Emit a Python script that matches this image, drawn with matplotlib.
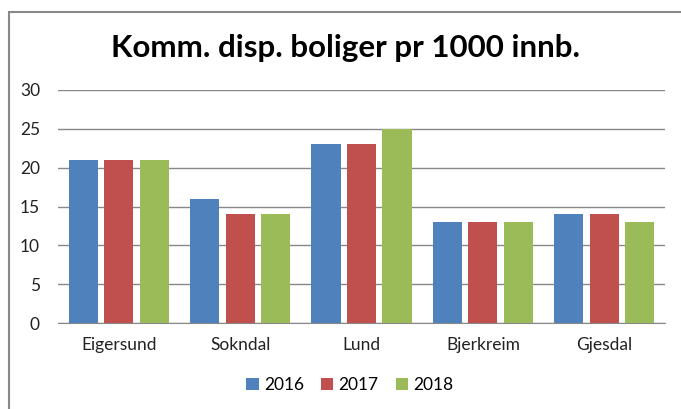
import numpy as np
import matplotlib.pyplot as plt
from matplotlib.patches import Rectangle

# Data
kommuner = ['Eigersund', 'Sokndal', 'Lund', 'Bjerkreim', 'Gjesdal']
years = ['2016', '2017', '2018']
v2016 = [21, 16, 23, 13, 14]
v2017 = [21, 14, 23, 13, 14]
v2018 = [21, 14, 25, 13, 13]
colors = ['#4F81BD', '#C0504D', '#9BBB59']

plt.rcParams['font.family'] = ['Lato', 'DejaVu Sans']

fig = plt.figure(figsize=(6.81, 4.09), dpi=100)
W, H = 681, 409
ax = fig.add_axes([58 / W, 1 - 323 / H, (665 - 58) / W, (323 - 90) / H])

x = np.arange(len(kommuner))
bw = 0.24
step = 0.292
for i, (vals, col, yr) in enumerate(zip([v2016, v2017, v2018], colors, years)):
    ax.bar(x + (i - 1) * step, vals, width=bw, color=col, label=yr, zorder=3)

ax.set_xlim(-0.5, len(kommuner) - 0.5)
ax.set_ylim(0, 30)
ax.set_yticks(range(0, 31, 5))
ax.set_xticks(x)
ax.set_xticklabels(kommuner)
ax.grid(axis='y', color='#888888', linewidth=1, zorder=0)
ax.tick_params(length=0, labelsize=12.5, colors='#222222')
ax.tick_params(axis='y', pad=13)
ax.tick_params(axis='x', pad=10)
for s in ['top', 'right', 'left']:
    ax.spines[s].set_visible(False)
ax.spines['bottom'].set_color('#888888')

fig.text(345 / W, 1 - 48 / H, 'Komm. disp. boliger pr 1000 innb.', ha='center', va='center',
         fontsize=22.5, fontweight='bold')

fig.legend(loc='center', bbox_to_anchor=(350 / W, 1 - 385 / H), ncol=3, frameon=False,
           fontsize=12.5, handlelength=0.7, handleheight=0.7, handletextpad=0.3, columnspacing=1.0)

fig.patches.append(Rectangle((9 / W, -0.1), 1.2, 1 - 12 / H + 0.1, transform=fig.transFigure,
                             fill=False, edgecolor='#888888', linewidth=1.5))

fig.savefig('out.png', dpi=100)
